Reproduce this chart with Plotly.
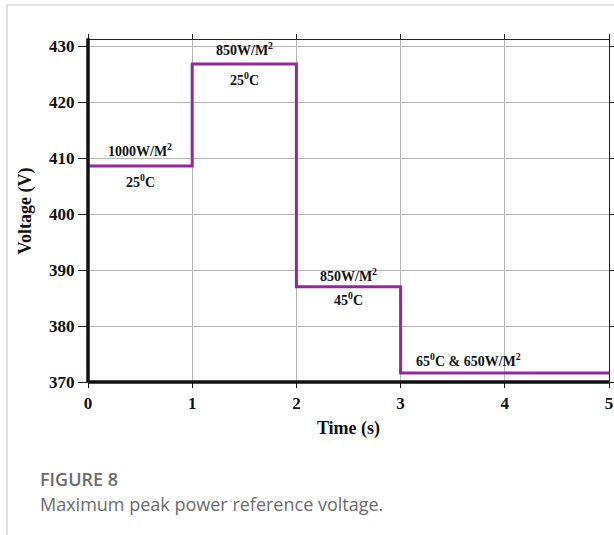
import plotly.graph_objects as go

# Data
time_s = [0, 1, 1, 2, 2, 3, 3, 5]
voltage_v = [408.6, 408.6, 426.8, 426.8, 387.0, 387.0, 371.6, 371.6]
x_ticks = [0, 1, 2, 3, 4, 5]
y_ticks = [370, 380, 390, 400, 410, 420, 430]
ann_text = ["1000W/M<sup>2</sup>", "25<sup>0</sup>C", "850W/M<sup>2</sup>", "25<sup>0</sup>C",
            "850W/M<sup>2</sup>", "45<sup>0</sup>C", "65<sup>0</sup>C &amp; 650W/M<sup>2</sup>"]
ann_x = [0.5, 0.5, 1.5, 1.5, 2.5, 2.5, 3.65]
ann_y = [411.4, 405.9, 429.5, 424.1, 389.1, 384.8, 373.9]

W, H = 614, 535
L, R, T, B = 88, 5, 40, 153
pw, ph = W - L - R, H - T - B

def px_x(p):
    return (p - L) / pw

def px_y(p):
    return (H - B - p) / ph

serif = "Liberation Serif, Times New Roman, serif"

fig = go.Figure()
fig.add_trace(go.Scatter(x=time_s, y=voltage_v, mode="lines",
                         line=dict(color="#93289a", width=3), showlegend=False,
                         hoverinfo="skip"))

for t, x, y in zip(ann_text, ann_x, ann_y):
    fig.add_annotation(x=x, y=y, text="<b>" + t + "</b>", showarrow=False,
                       font=dict(family=serif, size=14, color="#111"),
                       xanchor="center", yanchor="middle")

# card border
fig.add_shape(type="line", xref="paper", yref="paper",
              x0=px_x(7), x1=px_x(620), y0=px_y(5), y1=px_y(5),
              line=dict(color="#cccccc", width=1.2))
fig.add_shape(type="line", xref="paper", yref="paper",
              x0=px_x(7), x1=px_x(7), y0=px_y(5), y1=px_y(540),
              line=dict(color="#cccccc", width=1.2))

# thick left and bottom axes
fig.add_shape(type="line", xref="paper", yref="paper",
              x0=0, x1=0, y0=0, y1=1.005, line=dict(color="#111", width=3.5))
fig.add_shape(type="line", xref="paper", yref="paper",
              x0=0, x1=1, y0=0, y1=0, line=dict(color="#111", width=3.5))

# captions
fig.add_annotation(xref="paper", yref="paper", x=px_x(38), y=px_y(479),
                   text="FIGURE 8", showarrow=False, xanchor="left", yanchor="middle",
                   font=dict(family="Open Sans, Noto Sans, sans-serif", size=18,
                             color="#6b6b6b", weight=600))
fig.add_annotation(xref="paper", yref="paper", x=px_x(38), y=px_y(504),
                   text="Maximum peak power reference voltage.", showarrow=False,
                   xanchor="left", yanchor="middle",
                   font=dict(family="Open Sans, Noto Sans, sans-serif", size=18, color="#6b6b6b"))

fig.update_layout(
    width=W, height=H,
    margin=dict(l=L, r=R, t=T, b=B, autoexpand=False),
    paper_bgcolor="white", plot_bgcolor="white",
    font=dict(family=serif, color="#111"),
)
fig.update_xaxes(range=[0, 5], tickvals=x_ticks, ticktext=["<b>%d</b>" % v for v in x_ticks],
                 automargin=False,
                 showgrid=True, gridcolor="#b5b5b5", gridwidth=1,
                 showline=True, linecolor="#222", linewidth=1.2, mirror="ticks",
                 ticks="outside", ticklen=5, tickcolor="#222",
                 tickfont=dict(family=serif, size=17, color="#111"),
                 title=dict(text="<b>Time (s)</b>", font=dict(family=serif, size=18, color="#111"),
                            standoff=9),
                 zeroline=False)
fig.update_yaxes(range=[370, 431.1], tickvals=y_ticks, ticktext=["<b>%d</b>" % v for v in y_ticks],
                 automargin=False,
                 showgrid=True, gridcolor="#b5b5b5", gridwidth=1,
                 showline=True, linecolor="#222", linewidth=1.2, mirror="ticks",
                 ticks="outside", ticklen=9, tickcolor="#222",
                 tickfont=dict(family=serif, size=17, color="#111"),
                 title=dict(text="<b>Voltage (V)</b>", font=dict(family=serif, size=18, color="#111"),
                            standoff=12),
                 zeroline=False)

fig.write_html("out.html")
